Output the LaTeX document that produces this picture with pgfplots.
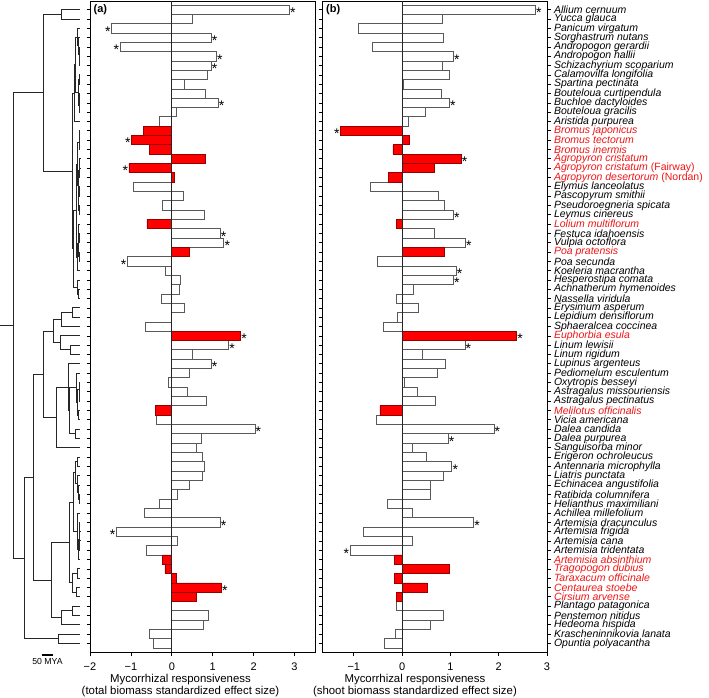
\documentclass[border=0pt]{standalone}
\usepackage{fontspec}
\setmainfont{Liberation Sans}
\setsansfont{Liberation Sans}
\usepackage{pgfplots}
\pgfplotsset{compat=1.18}
\definecolor{barred}{RGB}{255,0,0}
\definecolor{baredge}{RGB}{150,0,0}
\definecolor{labred}{RGB}{240,20,20}
\newcommand{\fs}[1]{\fontsize{#1bp}{#1bp}\selectfont}
\newcommand{\R}[1]{\textcolor{labred}{#1}}
\pgfplotsset{
  panel/.style={
    scale only axis, width=225bp, height=651bp,
    y dir=reverse, ymin=0.071, ymax=69.92,
    ytick={1,...,69},
    tick align=outside,
    major tick length=3.5bp,
    axis line style={black, line width=0.8bp},
    every tick/.style={black, line width=0.7bp},
    xtick pos=left,
    xticklabel style={font=\fs{11}, yshift=-4bp},
    clip=false,
  },
  wbar/.style={xbar, bar width=1, bar shift=0pt, fill=white, draw=black!65, line width=0.7bp},
  rbar/.style={xbar, bar width=1, bar shift=0pt, fill=barred, draw=baredge, line width=0.7bp},
  starR/.style={draw=none, mark=none, nodes near coords={*},
    every node near coord/.style={anchor=west, inner sep=0.6bp, font=\fs{14}, text=black, yshift=-3bp}},
  starL/.style={draw=none, mark=none, nodes near coords={*},
    every node near coord/.style={anchor=east, inner sep=0.6bp, font=\fs{14}, text=black, yshift=-3bp}},
}
\begin{document}
\begin{tikzpicture}
\path[use as bounding box] (0,0) rectangle (709bp,698bp);
% ---------- tree ----------
\begin{axis}[at={(0bp,46bp)}, anchor=south west, scale only axis, width=90bp, height=651bp,
  xmin=0, xmax=90, ymin=0.071, ymax=69.92, y dir=reverse, hide axis, clip=false]
\addplot[black!85, line width=0.85bp, unbounded coords=jump] coordinates {
(80,1) (61.7,1) (61.7,2) (80,2) (nan,nan)
(80,6) (79.5,6) (79.5,7) (80,7) (nan,nan)
(80,5) (79,5) (79,6.5) (79.5,6.5) (nan,nan)
(80,4) (78.5,4) (78.5,5.75) (79,5.75) (nan,nan)
(80,3) (77,3) (77,4.875) (78.5,4.875) (nan,nan)
(80,8) (79,8) (79,9) (80,9) (nan,nan)
(80,10) (79.5,10) (79.5,11) (80,11) (nan,nan)
(79.5,10.5) (79,10.5) (79,12) (80,12) (nan,nan)
(79,8.5) (78,8.5) (78,11.25) (79,11.25) (nan,nan)
(77,3.9375) (75.5,3.9375) (75.5,9.875) (78,9.875) (nan,nan)
(75.5,6.906) (74,6.906) (74,13) (80,13) (nan,nan)
(80,14) (79.5,14) (79.5,15) (80,15) (nan,nan)
(79.5,14.5) (79,14.5) (79,16) (80,16) (nan,nan)
(80,17) (79.7,17) (79.7,18) (80,18) (nan,nan)
(79.7,17.5) (79.4,17.5) (79.4,19) (80,19) (nan,nan)
(80,20) (79.5,20) (79.5,21) (80,21) (nan,nan)
(80,22) (79.2,22) (79.2,23) (80,23) (nan,nan)
(79.5,20.5) (78.8,20.5) (78.8,22.5) (79.2,22.5) (nan,nan)
(79.4,18.25) (78.3,18.25) (78.3,21.5) (78.8,21.5) (nan,nan)
(79,15.25) (77.5,15.25) (77.5,19.875) (78.3,19.875) (nan,nan)
(80,25) (79,25) (79,26) (80,26) (nan,nan)
(80,24) (78.5,24) (78.5,25.5) (79,25.5) (nan,nan)
(80,27) (79.3,27) (79.3,28) (80,28) (nan,nan)
(78.5,24.75) (78,24.75) (78,27.5) (79.3,27.5) (nan,nan)
(78,26.125) (77,26.125) (77,29) (80,29) (nan,nan)
(77.5,17.5625) (76,17.5625) (76,27.5625) (77,27.5625) (nan,nan)
(80,31) (78.5,31) (78.5,32) (80,32) (nan,nan)
(80,30) (77.5,30) (77.5,31.5) (78.5,31.5) (nan,nan)
(76,22.5625) (73.5,22.5625) (73.5,30.75) (77.5,30.75) (nan,nan)
(74,9.953) (72,9.953) (72,26.656) (73.5,26.656) (nan,nan)
(61.7,1.5) (43.3,1.5) (43.3,18.305) (72,18.305) (nan,nan)
(80,33) (72.7,33) (72.7,34) (80,34) (nan,nan)
(72.7,33.5) (61.7,33.5) (61.7,35) (80,35) (nan,nan)
(80,37) (70,37) (70,38) (80,38) (nan,nan)
(80,36) (60,36) (60,37.5) (70,37.5) (nan,nan)
(61.7,34.25) (53.3,34.25) (53.3,36.75) (60,36.75) (nan,nan)
(80,42) (79.5,42) (79.5,43) (80,43) (nan,nan)
(80,41) (79,41) (79,42.5) (79.5,42.5) (nan,nan)
(80,44) (78.5,44) (78.5,45) (80,45) (nan,nan)
(79,41.75) (77,41.75) (77,44.5) (78.5,44.5) (nan,nan)
(80,40) (76,40) (76,43.125) (77,43.125) (nan,nan)
(80,46) (75,46) (75,47) (80,47) (nan,nan)
(76,41.5625) (69.5,41.5625) (69.5,46.5) (75,46.5) (nan,nan)
(80,39) (68.3,39) (68.3,44.031) (69.5,44.031) (nan,nan)
(68.3,41.516) (56,41.516) (56,48) (80,48) (nan,nan)
(53.3,35.5) (43.3,35.5) (43.3,44.758) (56,44.758) (nan,nan)
(80,49) (77.5,49) (77.5,50) (80,50) (nan,nan)
(80,53) (79,53) (79,54) (80,54) (nan,nan)
(80,52) (78.5,52) (78.5,53.5) (79,53.5) (nan,nan)
(80,51) (77.5,51) (77.5,52.75) (78.5,52.75) (nan,nan)
(77.5,49.5) (75.5,49.5) (75.5,51.875) (77.5,51.875) (nan,nan)
(80,57) (79.6,57) (79.6,58) (80,58) (nan,nan)
(80,56) (79.3,56) (79.3,57.5) (79.6,57.5) (nan,nan)
(79.3,56.75) (79,56.75) (79,59) (80,59) (nan,nan)
(79,57.875) (78.5,57.875) (78.5,60) (80,60) (nan,nan)
(80,55) (77,55) (77,58.9375) (78.5,58.9375) (nan,nan)
(75.5,50.6875) (73.5,50.6875) (73.5,56.969) (77,56.969) (nan,nan)
(80,61) (77,61) (77,62) (80,62) (nan,nan)
(80,63) (76.5,63) (76.5,64) (80,64) (nan,nan)
(77,61.5) (72.5,61.5) (72.5,63.5) (76.5,63.5) (nan,nan)
(73.5,53.828) (69.5,53.828) (69.5,62.5) (72.5,62.5) (nan,nan)
(80,65) (72.7,65) (72.7,66) (80,66) (nan,nan)
(72.7,65.5) (61.7,65.5) (61.7,67) (80,67) (nan,nan)
(69.5,58.164) (51.7,58.164) (51.7,66.25) (61.7,66.25) (nan,nan)
(43.3,40.129) (33.3,40.129) (33.3,62.207) (51.7,62.207) (nan,nan)
(80,68) (58.3,68) (58.3,69) (80,69) (nan,nan)
(33.3,51.168) (24,51.168) (24,68.5) (58.3,68.5) (nan,nan)
(43.3,9.902) (13.3,9.902) (13.3,59.834) (24,59.834) (nan,nan)
(0,34.868) (13.3,34.868)
};
\addplot[black, line width=2bp] coordinates {(41.7,70.24) (53.3,70.24)};
\node[font=\fs{8.7}] at (axis cs:47.5,70.9) {50 MYA};
\end{axis}
% ---------- panel (a) ----------
\begin{axis}[panel, at={(90bp,46bp)}, anchor=south west,
  xmin=-2, xmax=3.5, xtick={-2,-1,0,1,2,3}, xticklabels={−2,−1,0,1,2,3},
  ytick pos=left, yticklabels={}]
\addplot[wbar] coordinates {(2.87,1) (0.51,2) (-1.48,3) (0.96,4) (-1.27,5) (1.09,6) (0.96,7) (0.86,8) (0.30,9) (0.82,10) (1.13,11) (0.11,12) (-0.31,13) (-0.95,20) (0.27,21) (-0.22,22) (0.79,23) (1.18,25) (1.27,26) (-1.09,28) (-0.16,29) (0.20,30) (0.18,31) (-0.26,32) (0.30,33) (-0.02,34) (-0.64,35) (1.39,37) (0.51,38) (0.96,39) (0.42,40) (-0.08,41) (0.38,42) (0.84,43) (-0.38,45) (2.03,46) (0.72,47) (0.59,48) (0.74,49) (0.79,50) (0.74,51) (0.43,52) (0.14,53) (-0.30,54) (-0.66,55) (1.18,56) (-1.36,57) (0.13,58) (-0.63,59) (0,65) (0.90,66) (0.76,67) (-0.56,68) (-0.44,69)};
\addplot[rbar] coordinates {(-0.69,14) (-0.99,15) (-0.54,16) (0.83,17) (-1.05,18) (0.05,19) (-0.61,24) (0.42,27) (1.68,36) (-0.40,44) (-0.23,60) (-0.17,61) (0.11,62) (1.21,63) (0.60,64)};
\addplot[black!85, line width=0.7bp] coordinates {(0,0.071) (0,69.92)};
\addplot[starR] coordinates {(2.87,1) (0.96,4) (1.09,6) (0.96,7) (1.13,11) (1.18,25) (1.27,26) (1.68,36) (1.39,37) (0.96,39) (2.03,46) (1.18,56) (1.21,63)};
\addplot[starL] coordinates {(-1.48,3) (-1.27,5) (-0.99,15) (-1.05,18) (-1.09,28) (-1.36,57)};
\node[anchor=north west, inner sep=0pt, font=\fs{11}\bfseries] at (axis description cs:0,1) [xshift=3.5bp, yshift=-3bp] {(a)};
\node[anchor=base, font=\fs{11.4}] at (axis description cs:0.402,0) [yshift=-30bp] {Mycorrhizal responsiveness};
\node[anchor=base, font=\fs{11.4}] at (axis description cs:0.402,0) [yshift=-42bp] {(total biomass standardized effect size)};
\end{axis}
% ---------- panel (b) ----------
\begin{axis}[panel, at={(322bp,46bp)}, anchor=south west,
  xmin=-1.658, xmax=3, xtick={-1,0,1,2,3}, xticklabels={−1,0,1,2,3},
  ytick pos=both, yticklabel pos=right,
  yticklabel style={font=\fs{10.5}\itshape, anchor=west, xshift=0bp},
  yticklabels={Allium cernuum, Yucca glauca, Panicum virgatum, Sorghastrum nutans, Andropogon gerardii, Andropogon hallii, Schizachyrium scoparium, Calamovilfa longifolia, Spartina pectinata, Bouteloua curtipendula, Buchloe dactyloides, Bouteloua gracilis, Aristida purpurea, \R{Bromus japonicus}, \R{Bromus tectorum}, \R{Bromus inermis}, \R{Agropyron cristatum}, \R{Agropyron cristatum \textup{(Fairway)}}, \R{Agropyron desertorum \textup{(Nordan)}}, Elymus lanceolatus, Pascopyrum smithii, Pseudoroegneria spicata, Leymus cinereus, \R{Lolium multiflorum}, Festuca idahoensis, Vulpia octoflora, \R{Poa pratensis}, Poa secunda, Koeleria macrantha, Hesperostipa comata, Achnatherum hymenoides, Nassella viridula, Erysimum asperum, Lepidium densiflorum, Sphaeralcea coccinea, \R{Euphorbia esula}, Linum lewisii, Linum rigidum, Lupinus argenteus, Pediomelum esculentum, Oxytropis besseyi, Astragalus missouriensis, Astragalus pectinatus, \R{Melilotus officinalis}, Vicia americana, Dalea candida, Dalea purpurea, Sanguisorba minor, Erigeron ochroleucus, Antennaria microphylla, Liatris punctata, Echinacea angustifolia, Ratibida columnifera, Helianthus maximiliani, Achillea millefolium, Artemisia dracunculus, Artemisia frigida, Artemisia cana, Artemisia tridentata, \R{Artemisia absinthium}, \R{Tragopogon dubius}, \R{Taraxacum officinale}, \R{Centaurea stoebe}, \R{Cirsium arvense}, Plantago patagonica, Penstemon nitidus, Hedeoma hispida, Krascheninnikovia lanata, Opuntia polyacantha}]
\addplot[wbar] coordinates {(2.76,1) (0.83,2) (-0.90,3) (0.85,4) (-0.61,5) (1.06,6) (0.83,7) (0.97,8) (0.03,9) (0.81,10) (0.98,11) (0.48,12) (0.12,13) (-0.65,20) (0.76,21) (0.87,22) (1.06,23) (0.66,25) (1.31,26) (-0.52,28) (1.12,29) (1.06,30) (0.23,31) (-0.12,32) (0.34,33) (-0.10,34) (-0.39,35) (1.30,37) (0.41,38) (0.90,39) (0.72,40) (0.04,41) (0.32,42) (0.68,43) (-0.54,45) (1.90,46) (0.95,47) (0.21,48) (0.50,49) (1.03,50) (0.85,51) (0.59,52) (0.58,53) (-0.30,54) (0.21,55) (1.48,56) (-0.81,57) (0.21,58) (-1.08,59) (-0.12,65) (0.86,66) (0.59,67) (-0.14,68) (-0.36,69)};
\addplot[rbar] coordinates {(-1.28,14) (0.15,15) (-0.19,16) (1.22,17) (0.67,18) (-0.28,19) (-0.12,24) (0.88,27) (2.37,36) (-0.46,44) (-0.15,60) (0.98,61) (-0.15,62) (0.52,63) (-0.12,64)};
\addplot[black!85, line width=0.7bp] coordinates {(0,0.071) (0,69.92)};
\addplot[starR] coordinates {(2.76,1) (1.06,6) (0.98,11) (1.22,17) (1.06,23) (1.31,26) (1.12,29) (1.06,30) (2.37,36) (1.30,37) (1.90,46) (0.95,47) (1.03,50) (1.48,56)};
\addplot[starL] coordinates {(-1.28,14) (-1.08,59)};
\node[anchor=north west, inner sep=0pt, font=\fs{11}\bfseries] at (axis description cs:0,1) [xshift=4bp, yshift=-3bp] {(b)};
\node[anchor=base, font=\fs{11.4}] at (axis description cs:0.413,0) [yshift=-30bp] {Mycorrhizal responsiveness};
\node[anchor=base, font=\fs{11.4}] at (axis description cs:0.413,0) [yshift=-42bp] {(shoot biomass standardized effect size)};
\end{axis}
\end{tikzpicture}
\end{document}
